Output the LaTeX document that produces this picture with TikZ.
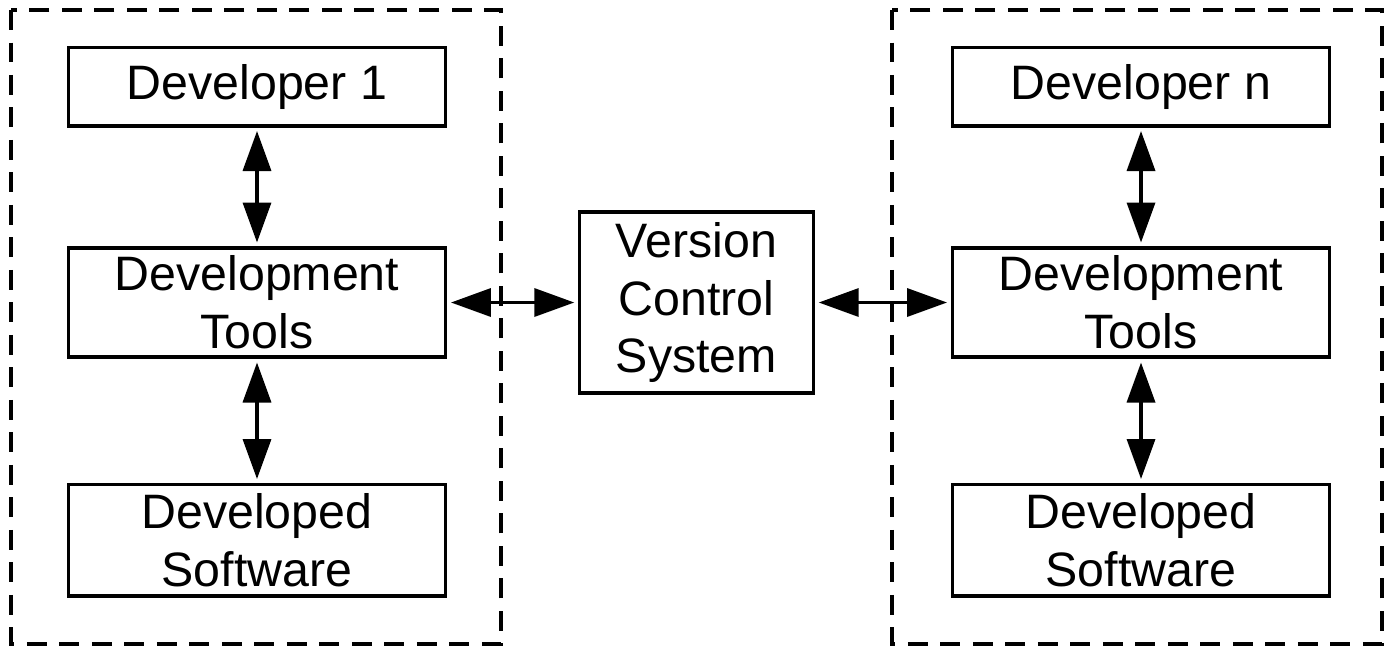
\documentclass[tikz,border=0pt]{standalone}
\usepackage{fontspec}
\setmainfont{Liberation Sans}
\usetikzlibrary{arrows.meta}

\begin{document}
\begin{tikzpicture}[
        x=0.02cm, y=-0.02cm,
        font=\fontsize{27.5}{33}\selectfont,
        caja/.style={draw=black, line width=2pt, align=center,
            inner sep=0pt, minimum width=7.55cm},
        flecha/.style={{Triangle[length=0.8cm,width=0.56cm]}-{Triangle[length=0.8cm,width=0.56cm]},
            line width=2pt, shorten <=0.07cm, shorten >=0.07cm},
        grupo/.style={draw=black, line width=2pt, dash pattern=on 0.4cm off 0.25cm}
    ]
        \useasboundingbox (0,0) rectangle (1391,654);

        % Grupos de desarrolladores
        \draw[grupo] (11,10) rectangle (501,644);
        \draw[grupo] (892,10) rectangle (1382,644);

        % Desarrollador 1
        \node[caja, minimum height=1.57cm] (dev1) at (257,86.5) {Developer 1};
        \node[caja, minimum height=2.19cm] (tools1) at (257,302.5) {Development\\Tools};
        \node[caja, minimum height=2.23cm] (soft1) at (257,540) {Developed\\Software};

        % Desarrollador n
        \node[caja, minimum height=1.57cm] (devn) at (1141,86.5) {Developer n};
        \node[caja, minimum height=2.19cm] (toolsn) at (1141,302.5) {Development\\Tools};
        \node[caja, minimum height=2.23cm] (softn) at (1141,540) {Developed\\Software};

        % Sistema de control de versiones
        \node[caja, minimum width=4.68cm, minimum height=3.62cm] (vcs)
            at (696.5,302.5) {Version\\Control\\System};

        % Flechas
        \draw[flecha] (dev1) -- (tools1);
        \draw[flecha] (tools1) -- (soft1);
        \draw[flecha] (devn) -- (toolsn);
        \draw[flecha] (toolsn) -- (softn);
        \draw[flecha] (tools1) -- (vcs);
        \draw[flecha] (vcs) -- (toolsn);

    \end{tikzpicture}
\end{document}
